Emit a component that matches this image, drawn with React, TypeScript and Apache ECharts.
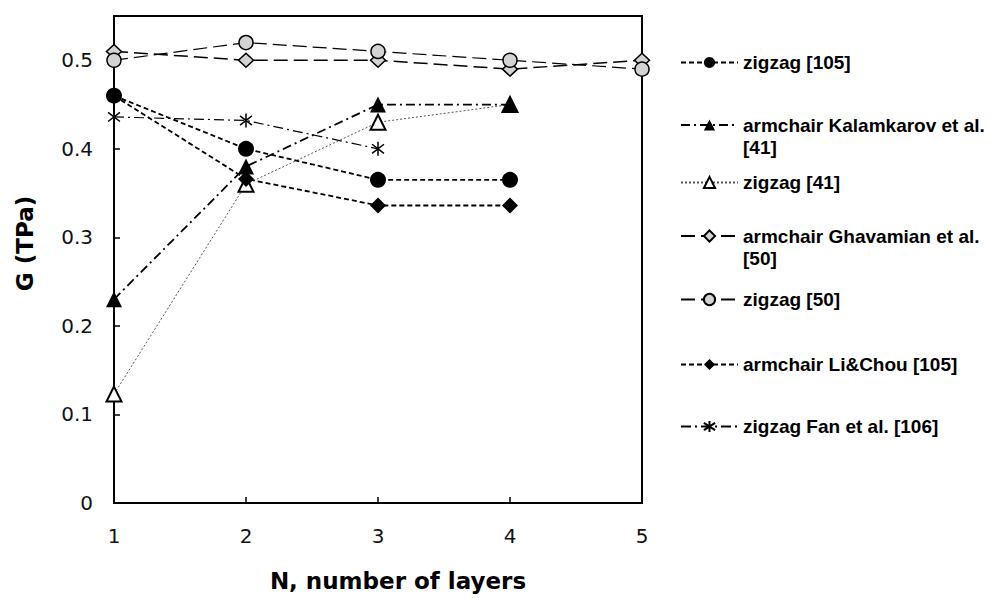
import React, { useEffect, useRef } from "react";
import * as echarts from "echarts";

// ---- data ----
const layers = [1, 2, 3, 4, 5];
const yTicks = [0, 0.1, 0.2, 0.3, 0.4, 0.5];

const zigzag105 = [0.46, 0.40, 0.365, 0.365];
const armchairKalamkarov41 = [0.23, 0.38, 0.45, 0.45];
const zigzag41 = [0.123, 0.36, 0.43, 0.45];
const armchairGhavamian50 = [0.51, 0.50, 0.50, 0.49, 0.50];
const zigzag50 = [0.50, 0.52, 0.51, 0.50, 0.49];
const armchairLiChou105 = [0.46, 0.366, 0.336, 0.336];
const zigzagFan106 = [0.436, 0.432, 0.40];

const names = [
  "zigzag [105]",
  "armchair Kalamkarov et al.\n[41]",
  "zigzag [41]",
  "armchair Ghavamian et al.\n[50]",
  "zigzag [50]",
  "armchair Li&Chou [105]",
  "zigzag Fan et al. [106]",
];
const legendCenters = [63, 125, 183, 236, 300, 365, 427];

const pairs = (vals: number[]) => vals.map((v, i) => [layers[i], v]);

const ASTERISK = "path://M10,0L10,20M1.5,3.5L18.5,16.5M1.5,16.5L18.5,3.5";

export default function App() {
  const ref = useRef<HTMLDivElement>(null);
  useEffect(() => {
    if (!ref.current) return;
    const chart = echarts.init(ref.current, undefined, { renderer: "svg" });
    const black = "#000";
    const gray = "#d3d3d3";
    const mk = (
      name: string,
      vals: number[],
      symbol: string,
      size: any,
      fill: string,
      dash: number[],
      width: number,
      lineColor = black,
      borderWidth = 0
    ) => ({
      type: "line",
      name,
      data: pairs(vals),
      symbol,
      symbolSize: size,
      symbolKeepAspect: true,
      showAllSymbol: true,
      itemStyle: { color: fill, borderColor: black, borderWidth },
      lineStyle: { color: lineColor, width, type: dash },
      emphasis: { disabled: true },
      z: 2,
    });
    const series = [
      mk(names[3], armchairGhavamian50, "diamond", [15, 14], gray, [14, 6], 1.5, black, 1.5),
      mk(names[4], zigzag50, "circle", 14, gray, [14, 6], 1.2, black, 1.5),
      mk(names[6], zigzagFan106, ASTERISK, 14, "rgba(0,0,0,0)", [10, 4, 2, 4], 1.2, black, 1.5),
      mk(names[2], zigzag41, "triangle", 15, "#fff", [2, 2], 1, "#555", 2),
      mk(names[1], armchairKalamkarov41, "triangle", 16, black, [9, 4, 2, 4], 1.8),
      mk(names[5], armchairLiChou105, "diamond", [16, 16], black, [5, 3], 1.8),
      mk(names[0], zigzag105, "circle", 16, black, [5, 3], 1.8),
    ];
    const legends = names.map((n, i) => {
      const twoLine = n.includes("\n");
      return {
        data: [n],
        left: 680,
        top: twoLine ? legendCenters[i] - 33 : legendCenters[i] - 10,
        padding: 0,
        itemWidth: 57,
        itemHeight: 14,
        itemGap: 0,
        selectedMode: false,
        formatter: (name: string) => (name.includes("\n") ? "\n" + name : name),
        textStyle: {
          fontFamily: "Liberation Sans",
          fontWeight: "bold",
          fontSize: 19,
          color: "#000",
          lineHeight: twoLine ? 22 : 14,
        },
      };
    });
    chart.setOption({
      animation: false,
      backgroundColor: "#fff",
      grid: {
        left: 114,
        right: 351,
        top: 16,
        bottom: 91,
        show: true,
        borderColor: black,
        borderWidth: 2,
        containLabel: false,
      },
      legend: legends,
      xAxis: {
        type: "value",
        min: layers[0],
        max: layers[layers.length - 1],
        interval: 1,
        name: "N, number of layers",
        nameLocation: "middle",
        nameGap: 66,
        nameTextStyle: {
          fontFamily: "DejaVu Sans",
          fontWeight: "bold",
          fontSize: 23,
          color: "#000",
          lineHeight: 24,
          padding: [0, 0, 0, 40],
        },
        axisLine: { show: true, lineStyle: { color: black, width: 2 } },
        axisTick: { show: true, inside: true, length: 6, lineStyle: { color: black, width: 1.5 } },
        axisLabel: {
          margin: 23,
          fontFamily: "DejaVu Sans",
          fontSize: 20,
          color: "#111",
          lineHeight: 20,
        },
        splitLine: { show: false },
      },
      yAxis: {
        type: "value",
        min: yTicks[0],
        max: 0.55,
        interval: 0.1,
        name: "G (TPa)",
        nameLocation: "middle",
        nameGap: 77,
        nameTextStyle: {
          fontFamily: "DejaVu Sans",
          fontWeight: "bold",
          fontSize: 23,
          color: "#000",
          lineHeight: 24,
          padding: [0, 0, 0, 32],
        },
        axisLine: { show: true, lineStyle: { color: black, width: 2 } },
        axisTick: { show: true, inside: true, length: 6, lineStyle: { color: black, width: 1.5 } },
        axisLabel: {
          margin: 21,
          showMaxLabel: false,
          fontFamily: "DejaVu Sans",
          fontSize: 20,
          color: "#111",
          formatter: (v: number) => (v === 0 ? "0" : v.toFixed(1)),
        },
        splitLine: { show: false },
      },
      series,
    });
    return () => chart.dispose();
  }, []);
  return (
    <div
      ref={ref}
      style={{ position: "absolute", left: 0, top: 0, width: 993, height: 598 }}
    />
  );
}
